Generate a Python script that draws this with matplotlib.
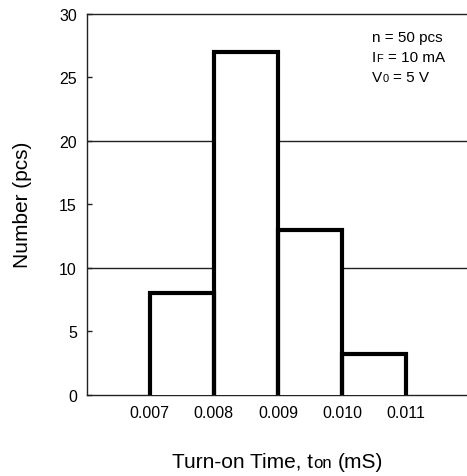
import matplotlib
matplotlib.use('Agg')
import matplotlib.pyplot as plt
from matplotlib.transforms import IdentityTransform

# histogram data
bin_edges = [0.007, 0.008, 0.009, 0.010, 0.011]
counts = [8, 27, 13, 3.2]
xtick_labels = ['0.007', '0.008', '0.009', '0.010', '0.011']
ytick_values = [0, 5, 10, 15, 20, 25, 30]
grid_levels = [10, 20]

plt.rcParams['font.family'] = ['Liberation Sans', 'DejaVu Sans']

W, H = 467, 477
fig = plt.figure(figsize=(W / 100, H / 100), dpi=100)
ax = fig.add_axes([0.1857, 0.1698, 0.8143, 0.7998])

lefts = bin_edges[:-1]
rights = bin_edges[1:]
widths = [r - l for l, r in zip(lefts, rights)]

# white fill hides the grid lines behind the bars
ax.bar(lefts, counts, width=widths, align='edge', color='white', linewidth=0, zorder=3)
# open-bottom outlines
for l, r, c in zip(lefts, rights, counts):
    ax.plot([l, l, r, r], [0, c, c, 0], color='black', lw=3,
            solid_joinstyle='miter', solid_capstyle='butt', zorder=4)

for lvl in grid_levels:
    ax.axhline(lvl, color='#222222', lw=1, zorder=2)

ax.set_xlim(0.006022, 0.011946)
ax.set_ylim(0, 30)
ax.set_xticks(bin_edges, xtick_labels)
ax.set_yticks(ytick_values)
ax.tick_params(axis='x', length=0, pad=7.5, labelsize=11.5)
ax.tick_params(axis='y', direction='in', length=3.5, width=1, pad=7, labelsize=11.5,
               color='#222222')
ax.spines['right'].set_visible(False)
for side in ['left', 'top', 'bottom']:
    ax.spines[side].set_linewidth(1)
    ax.spines[side].set_color('#222222')

ax.set_ylabel('Number (pcs)', fontsize=15)
ax.yaxis.set_label_coords(-0.1438, 0.5)


def draw_runs(runs, x, y, center=False):
    # text pieces of mixed size sharing one baseline, in pixels
    renderer = fig.canvas.get_renderer()
    items = []
    total = 0
    for s, size, gap in runs:
        t = fig.text(0, 0, s, fontsize=size, ha='left', va='baseline',
                     transform=IdentityTransform())
        w = t.get_window_extent(renderer).width
        items.append((t, gap, w))
        total += gap + w
    if center:
        x -= total / 2
    for t, gap, w in items:
        x += gap
        t.set_position((x, y))
        x += w


sp11 = 4.3
sp15 = 5.8
draw_runs([('n = 50 pcs', 11, 0)], 371.7, H - 41.7)
draw_runs([('I', 11, 0), ('F', 8, 0.5), ('= 10 mA', 11, sp11)], 371.7, H - 61.7)
draw_runs([('V', 11, 0), ('0', 8, 0.5), ('= 5 V', 11, sp11)], 371.7, H - 81.7)

draw_runs([('Turn-on Time, t', 15, 0), ('on', 12, 0), ('(mS)', 15, sp15)],
          277.5, H - 467.7, center=True)

fig.savefig('out.png', dpi=100)
